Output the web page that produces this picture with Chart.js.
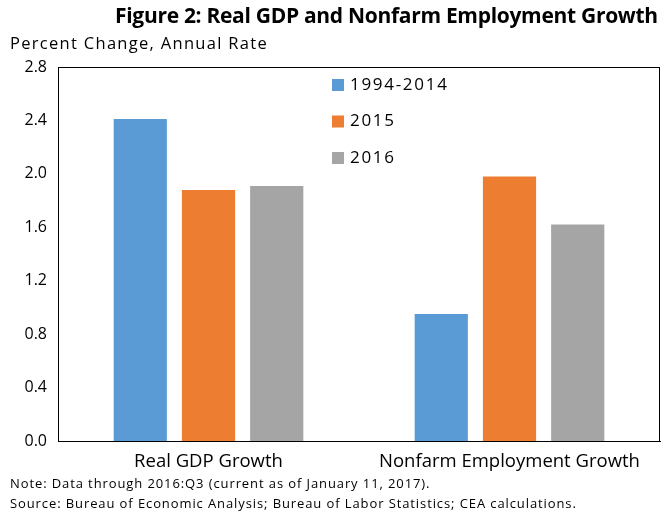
<!DOCTYPE html>
<html>
<head>
<meta charset="utf-8">
<script src="https://cdn.jsdelivr.net/npm/chart.js@4"></script>
<style>
  body { margin: 0; background: #fff; font-family: "Open Sans", sans-serif; }
  #wrap { position: relative; width: 663px; height: 515px; }
  canvas { position: absolute; left: 0; top: 0; }
  .txt { position: absolute; color: #000; white-space: nowrap; }
</style>
</head>
<body>
<div id="wrap">
  <canvas id="chart" width="663" height="515"></canvas>
  <div class="txt" style="left:0;width:663px;padding-left:115px;box-sizing:border-box;top:1px;font-size:21px;font-weight:bold;letter-spacing:-0.3px;">Figure 2: Real GDP and Nonfarm Employment Growth</div>
  <div class="txt" style="left:10px;top:31px;font-size:16.5px;letter-spacing:1.3px;">Percent Change, Annual Rate</div>
  <div class="txt" style="left:10px;top:474px;font-size:13px;letter-spacing:0.9px;">Note: Data through 2016:Q3 (current as of January 11, 2017).</div>
  <div class="txt" style="left:10px;top:494px;font-size:13px;letter-spacing:0.9px;">Source: Bureau of Economic Analysis; Bureau of Labor Statistics; CEA calculations.</div>
</div>
<script>
// Chart data
const categories = ['Real GDP Growth', 'Nonfarm Employment Growth'];
const seriesNames = ['1994-2014', '2015', '2016'];
const seriesColors = ['#5B9BD5', '#ED7D31', '#A5A5A5'];
const avg1994to2014 = [2.41, 0.95];
const values2015 = [1.88, 1.98];
const values2016 = [1.91, 1.62];
const yTicks = [0, 0.4, 0.8, 1.2, 1.6, 2.0, 2.4, 2.8];

const allSeries = [avg1994to2014, values2015, values2016];
const fontFamily = '"Open Sans", sans-serif';

// box around plot area + vertical legend inside
const framePlugin = {
    id: 'frame',
    afterDraw(chart) {
        const { ctx, chartArea: a } = chart;
        ctx.save();
        ctx.strokeStyle = '#000';
        ctx.lineWidth = 1;
        ctx.strokeRect(a.left + 0.5, a.top + 0.5, a.right - a.left - 1, a.bottom - a.top);
        ctx.font = '17px ' + fontFamily;
        ctx.textBaseline = 'middle';
        seriesNames.forEach((name, i) => {
            const y = 85 + i * 36.5;
            ctx.fillStyle = seriesColors[i];
            ctx.fillRect(332, y - 6, 12, 12);
            ctx.fillStyle = '#000';
            ctx.fillText(name.split('').join(String.fromCharCode(8202)), 350, y);
        });
        ctx.restore();
    }
};

new Chart(document.getElementById('chart'), {
    type: 'bar',
    data: {
        labels: categories,
        datasets: allSeries.map((data, i) => ({
            label: seriesNames[i],
            data: data,
            backgroundColor: seriesColors[i],
            categoryPercentage: 0.68,
            barPercentage: 0.78
        }))
    },
    options: {
        responsive: false,
        animation: false,
        layout: { padding: { top: 67, right: 3, bottom: 40, left: 0 } },
        plugins: { legend: { display: false }, tooltip: { enabled: false } },
        scales: {
            x: {
                grid: { display: false },
                border: { color: '#000' },
                ticks: { color: '#000', font: { size: 18.5, family: fontFamily }, padding: 2 },
                afterFit(s) { s.height = 34; }
            },
            y: {
                min: 0,
                max: 2.8,
                afterBuildTicks(s) { s.ticks = yTicks.map(v => ({ value: v })); },
                grid: { display: false },
                border: { color: '#000' },
                ticks: {
                    color: '#000',
                    font: { size: 16, family: fontFamily },
                    callback: v => v.toFixed(1)
                },
                afterFit(s) { s.width = 58; }
            }
        }
    },
    plugins: [framePlugin]
});
</script>
</body>
</html>
